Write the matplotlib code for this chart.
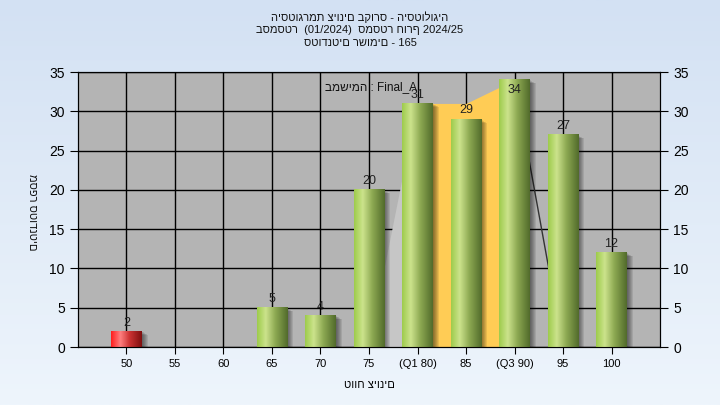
import numpy as np
import matplotlib
matplotlib.use("Agg")
import matplotlib.pyplot as plt
from matplotlib.colors import LinearSegmentedColormap
from matplotlib.patches import Rectangle

plt.rcParams['font.family'] = ['Liberation Sans', 'DejaVu Sans']

# data
categories = ['50', '55', '60', '65', '70', '75', '(Q1 80)', '85', '(Q3 90)', '95', '100']
counts = [2, 0, 0, 5, 4, 20, 31, 29, 34, 27, 12]
failing = [True] + [False] * 10
# inter-quartile band (Q1..Q3) and the side edges of the distribution shape
iqr_idx = [6, 7, 8]
iqr_top = [31, 31, 34]
left_edge = [(5, 0), (6, 31), (6, 0)]
right_edge_x = [8, 9]
right_edge_y = [34, 0]

title_lines = ["היסטוגרמת ציונים בקורס - היסטולוגיה",
               "בסמסטר  (01/2024)  סמסטר חורף 2024/25",
               "סטודנטים רשומים - 165"]
task_label = "במשימה : Final_A"
ylab = "מספר סטודנטים"
xlab = "טווח ציונים"

green = LinearSegmentedColormap.from_list("g", [(0, (0.62, 0.80, 0.30)), (0.28, (0.80, 0.89, 0.55)),
                                                (0.6, (0.55, 0.66, 0.32)), (1, (0.32, 0.42, 0.17))])
red = LinearSegmentedColormap.from_list("r", [(0, (1.0, 0.12, 0.12)), (0.3, (1.0, 0.50, 0.50)),
                                              (0.6, (0.80, 0.20, 0.20)), (1, (0.50, 0.06, 0.06))])

fig = plt.figure(figsize=(7.2, 4.05), dpi=100)

# figure background gradient
bg = fig.add_axes([0, 0, 1, 1], zorder=-10)
grad = np.linspace(0, 1, 256).reshape(-1, 1)
bgmap = LinearSegmentedColormap.from_list("bg", ["#d3e1f3", "#eef5fc"])
bg.imshow(grad, aspect='auto', cmap=bgmap, extent=[0, 1, 0, 1], origin='upper')
bg.axis('off')

ax = fig.add_axes([0.1083, 0.1432, 0.8084, 0.6790])
ax.set_facecolor('#b4b4b4')
x = np.arange(len(categories))
W = 0.62
px_x = 1 / 48.5
px_y = 35 / 275

# distribution shape behind bars
ax.fill([p[0] for p in left_edge], [p[1] for p in left_edge], color='#c6c6c6', zorder=1, lw=0)
ax.fill_between(iqr_idx, 0, iqr_top, color='#ffcc55', zorder=1, lw=0)
ax.plot(right_edge_x, right_edge_y, color='#333333', lw=1, zorder=1)

row = np.linspace(0, 1, 64).reshape(1, -1)
for i, (v, bad) in enumerate(zip(counts, failing)):
    if v <= 0:
        continue
    x0, x1 = i - W / 2, i + W / 2
    for k in range(1, 7):
        ax.add_patch(Rectangle((x0 + k * px_x, -k * 0.6 * px_y), W, v, color='black',
                               alpha=0.09, lw=0, zorder=2))
    ax.imshow(row, cmap=red if bad else green, aspect='auto', extent=[x0, x1, 0, v],
              zorder=3, interpolation='bilinear')
    if v > 32:
        ax.annotate(str(v), (i, v), xytext=(0, -3), textcoords='offset points', ha='center',
                    va='top', fontsize=9, color='#222222', zorder=5)
    else:
        ax.annotate(str(v), (i, v), xytext=(0, 2), textcoords='offset points', ha='center',
                    va='bottom', fontsize=9, color='#222222', zorder=5)

ax.set_xlim(-1, 11)
ax.set_ylim(0, 35)
ax.set_xticks(x)
ax.set_xticklabels(categories, fontsize=8)
ax.set_yticks(range(0, 36, 5))
ax.tick_params(axis='y', labelsize=10, length=6, color='black')
ax.tick_params(axis='x', length=5, color='black')
ax.grid(True, color='black', lw=1)
ax.set_axisbelow(True)
for s in ax.spines.values():
    s.set_color('black')

ax2 = ax.twinx()
ax2.set_ylim(0, 35)
ax2.set_yticks(range(0, 36, 5))
ax2.tick_params(axis='y', labelsize=10, length=6)

ax.text(0.424, 0.945, task_label, transform=ax.transAxes, fontsize=8.5, ha='left', va='center',
        color='#111111', zorder=6)
fig.text(32 / 720, 1 - 212 / 405, ylab, rotation=270, ha='center', va='center', fontsize=8,
         color='#111111')
ax.set_xlabel(xlab, fontsize=8, labelpad=8)

for j, t in enumerate(title_lines):
    fig.text(0.5, 1 - (17 + 13 * j) / 405, t, ha='center', va='center', fontsize=8, color='#111111')

fig.savefig("out.png", dpi=100)
